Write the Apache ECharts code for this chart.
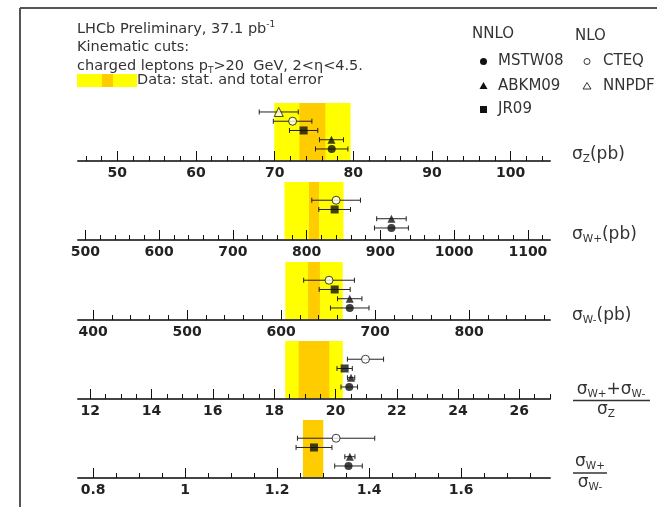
<!DOCTYPE html>
<html><head><meta charset="utf-8">
<script src="https://cdn.jsdelivr.net/npm/echarts@6/dist/echarts.min.js"></script>
<style>html,body{margin:0;padding:0;background:#fff}#c{width:657px;height:507px}</style>
</head><body><div id="c"></div>
<script>
// ---------- DATA ----------
const panelKeys = ['Z', 'Wplus', 'Wminus', 'sumOverZ', 'WplusOverWminus'];
const axisMin = [45, 490, 384, 11.6, 0.767];
const axisMax = [105, 1130, 886, 27, 1.793];
const tickLabels = [
  [50, 60, 70, 80, 90, 100],
  [500, 600, 700, 800, 900, 1000, 1100],
  [400, 500, 600, 700, 800],
  [12, 14, 16, 18, 20, 22, 24, 26],
  [0.8, 1, 1.2, 1.4, 1.6]
];
const minorStep = [2, 20, 20, 0.5, 0.05];

// LHCb data: central value, stat error, total error
const dataCentral = [74.8, 810, 635, 19.3, 1.278];
const dataStatErr = [1.65, 6.8, 6.3, 0.5, 0.022];
const dataTotalErr = [4.85, 40, 30.5, 0.94, 0.022];

// theory predictions (NNLO: MSTW08, ABKM09, JR09 ; NLO: CTEQ, NNPDF)
const pdfNames = ['MSTW08', 'ABKM09', 'JR09', 'CTEQ', 'NNPDF'];
const mstw08 = [77.25, 915, 673, 20.45, 1.355];
const mstw08Err = [2.06, 23, 20.5, 0.27, 0.03];
const abkm09 = [77.22, 915, 673, 20.51, 1.358];
const abkm09Err = [1.53, 20, 13, 0.12, 0.011];
const jr09 = [73.68, 838, 657, 20.3, 1.28];
const jr09Err = [1.8, 21.5, 16.5, 0.25, 0.039];
const cteq = [72.28, 840, 651, 20.98, 1.328];
const cteqErr = [2.45, 33, 27, 0.59, 0.084];
const nnpdf = [70.52, null, null, null, null];
const nnpdfErr = [2.48, null, null, null, null];

// ---------- STYLE / LAYOUT ----------
const pdfValues = [mstw08, abkm09, jr09, cteq, nnpdf];
const pdfErrors = [mstw08Err, abkm09Err, jr09Err, cteqErr, nnpdfErr];
const pdfSymbols = ['circle', 'triangle', 'rect', 'circle', 'triangle'];
const pdfSizes = [8, 8, 8, 8, 9];
const pdfOpen = [false, false, false, true, true];
const axisY = [161, 240, 320, 399, 478];
const gridH = 58;
const GL = 78, GR = 107;
const YELLOW = '#ffff00', ORANGE = '#ffcc00';
const FONT = 'DejaVu Sans';

function minorTicks(i) {
  const s = minorStep[i], out = [];
  for (let k = Math.ceil(axisMin[i] / s - 1e-9); k * s <= axisMax[i] + 1e-9; k++) {
    const v = +(k * s).toFixed(6);
    if (!tickLabels[i].some(m => Math.abs(m - v) < 1e-6)) out.push(v);
  }
  return out;
}

const grids = [], xAxes = [], yAxes = [], series = [];
panelKeys.forEach((key, i) => {
  grids.push({left: GL, right: GR, top: axisY[i] - gridH, height: gridH});
  xAxes.push({
    gridIndex: i, type: 'value', min: axisMin[i], max: axisMax[i], position: 'bottom', z: 5,
    axisLine: {show: true, onZero: false, lineStyle: {color: '#444', width: 2}},
    axisTick: {show: true, inside: true, length: 10, customValues: tickLabels[i], lineStyle: {color: '#111', width: 1}},
    axisLabel: {show: true, customValues: tickLabels[i], margin: 5, fontFamily: FONT, fontWeight: 'bold', fontSize: 14, color: '#222',
      formatter: v => String(v)},
    splitLine: {show: false}
  });
  xAxes.push({
    gridIndex: i, type: 'value', min: axisMin[i], max: axisMax[i], position: 'bottom', z: 5,
    axisLine: {show: false, onZero: false},
    axisTick: {show: true, inside: true, length: 5, customValues: minorTicks(i), lineStyle: {color: '#111', width: 1}},
    axisLabel: {show: false}, splitLine: {show: false}
  });
  yAxes.push({gridIndex: i, type: 'value', min: -0.3, max: 5.97, show: false});

  const band = (half, color, z) => ({
    type: 'custom', xAxisIndex: 2 * i, yAxisIndex: i, z: z, silent: true,
    data: [[dataCentral[i], half]],
    renderItem: (params, api) => {
      const c = api.value(0), h = api.value(1), cs = params.coordSys;
      const x1 = api.coord([c - h, 0])[0], x2 = api.coord([c + h, 0])[0];
      return {type: 'rect', shape: {x: x1, y: cs.y, width: x2 - x1, height: cs.height}, style: {fill: color}};
    }
  });
  series.push(band(dataTotalErr[i], YELLOW, 1));
  series.push(band(dataStatErr[i], ORANGE, 2));

  pdfNames.forEach((name, p) => {
    const v = pdfValues[p][i];
    if (v == null) return;
    const row = p + 1;
    series.push({
      type: 'custom', xAxisIndex: 2 * i, yAxisIndex: i, z: 6, silent: true,
      data: [[v, pdfErrors[p][i], row]],
      renderItem: (params, api) => {
        const c = api.value(0), e = api.value(1), r = api.value(2);
        const a = api.coord([c - e, r]), b = api.coord([c + e, r]);
        const st = {stroke: '#222', lineWidth: 1};
        return {type: 'group', children: [
          {type: 'line', shape: {x1: a[0], y1: a[1], x2: b[0], y2: b[1]}, style: st},
          {type: 'line', shape: {x1: a[0], y1: a[1] - 2.5, x2: a[0], y2: a[1] + 2.5}, style: st},
          {type: 'line', shape: {x1: b[0], y1: b[1] - 2.5, x2: b[0], y2: b[1] + 2.5}, style: st}
        ]};
      }
    });
    series.push({
      type: 'scatter', name: name, xAxisIndex: 2 * i, yAxisIndex: i, z: 7, silent: true,
      symbol: pdfSymbols[p], symbolSize: pdfSizes[p],
      itemStyle: pdfOpen[p] ? {color: '#fff', borderColor: '#111', borderWidth: 1} : {color: '#111'},
      data: [[v, row]]
    });
  });
});

// ---------- TEXT / DECORATIONS ----------
const txt = (x, y, text, extra) => Object.assign({type: 'text', z: 20, style: Object.assign({
  x: x, y: y, text: text, fontFamily: FONT, fontSize: 14.5, fill: '#333', verticalAlign: 'middle'}, extra || {})});
const sRich = {
  s: {fontSize: 17, fontFamily: FONT, fill: '#333', lineHeight: 20},
  sub: {fontSize: 10.5, fontFamily: FONT, fill: '#333', lineHeight: 9, verticalAlign: 'bottom'}
};
const tRich = {
  t: {fontSize: 14.5, fontFamily: FONT, fill: '#333', lineHeight: 18},
  sup: {fontSize: 9, fontFamily: FONT, fill: '#333', lineHeight: 9, verticalAlign: 'top'},
  sub: {fontSize: 9, fontFamily: FONT, fill: '#333', lineHeight: 9, verticalAlign: 'bottom'}
};
const legFont = {fontSize: 15};
const graphics = [
  {type: 'line', z: 20, shape: {x1: 20, y1: 8, x2: 657, y2: 8}, style: {stroke: '#555', lineWidth: 2}},
  {type: 'line', z: 20, shape: {x1: 20, y1: 8, x2: 20, y2: 507}, style: {stroke: '#555', lineWidth: 2}},
  txt(77, 29, '{t|LHCb Preliminary, 37.1 pb}{sup|-1}', {rich: tRich}),
  txt(77, 47.5, 'Kinematic cuts:'),
  txt(77, 66, '{t|charged leptons p}{sub|T}{t|>20  GeV, 2<η<4.5.}', {rich: tRich}),
  {type: 'rect', z: 20, shape: {x: 77, y: 74, width: 60, height: 13}, style: {fill: YELLOW}},
  {type: 'rect', z: 21, shape: {x: 102, y: 74, width: 11, height: 13}, style: {fill: ORANGE}},
  txt(137, 80.5, 'Data: stat. and total error'),
  txt(472, 34, 'NNLO', legFont),
  txt(575, 36, 'NLO', legFont),
  {type: 'circle', z: 20, shape: {cx: 483.5, cy: 61.5, r: 3.5}, style: {fill: '#111'}},
  {type: 'polygon', z: 20, shape: {points: [[483.5, 82], [487.5, 89], [479.5, 89]]}, style: {fill: '#111'}},
  {type: 'rect', z: 20, shape: {x: 480, y: 106, width: 7, height: 7}, style: {fill: '#111'}},
  {type: 'circle', z: 20, shape: {cx: 587, cy: 61.5, r: 3}, style: {fill: '#fff', stroke: '#333', lineWidth: 1}},
  {type: 'polygon', z: 20, shape: {points: [[587, 82.5], [591, 89], [583, 89]]}, style: {fill: '#fff', stroke: '#333', lineWidth: 1}},
  txt(498, 61.5, pdfNames[0], legFont),
  txt(498, 86, pdfNames[1], legFont),
  txt(498, 109.5, pdfNames[2], legFont),
  txt(603, 61.5, pdfNames[3], legFont),
  txt(603, 86, pdfNames[4], legFont),
  txt(572, 155, '{s|σ}{sub|Z}{s|(pb)}', {rich: sRich}),
  txt(572, 235, '{s|σ}{sub|W+}{s|(pb)}', {rich: sRich}),
  txt(572, 316, '{s|σ}{sub|W-}{s|(pb)}', {rich: sRich}),
  txt(611, 390, '{s|σ}{sub|W+}{s|+σ}{sub|W-}', {rich: sRich, align: 'center'}),
  {type: 'line', z: 20, shape: {x1: 573, y1: 400.5, x2: 650, y2: 400.5}, style: {stroke: '#333', lineWidth: 1.5}},
  txt(606, 410, '{s|σ}{sub|Z}', {rich: sRich, align: 'center'}),
  txt(590, 461.5, '{s|σ}{sub|W+}', {rich: sRich, align: 'center'}),
  {type: 'line', z: 20, shape: {x1: 573, y1: 473, x2: 607, y2: 473}, style: {stroke: '#333', lineWidth: 1.5}},
  txt(590, 483, '{s|σ}{sub|W-}', {rich: sRich, align: 'center'})
];

const chart = echarts.init(document.getElementById('c'), null, {renderer: 'canvas'});
chart.setOption({
  animation: false,
  backgroundColor: '#fff',
  grid: grids, xAxis: xAxes, yAxis: yAxes, series: series, graphic: graphics
});
</script></body></html>
